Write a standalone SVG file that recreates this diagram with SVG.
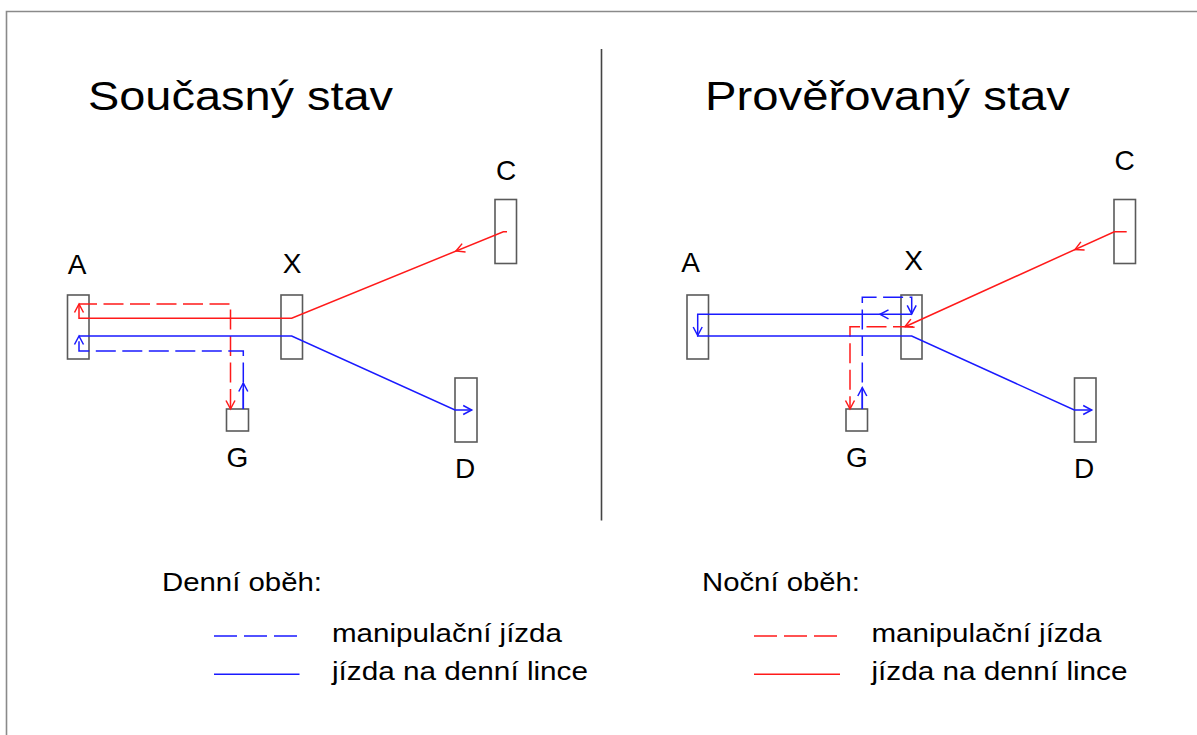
<svg xmlns="http://www.w3.org/2000/svg" xmlns:xlink="http://www.w3.org/1999/xlink" width="1197" height="735" viewBox="0 0 1197 735">
  <style>
    text { font-family: "Liberation Sans", Arial, sans-serif; fill: #000; }
    .title { font-size: 40px; }
    .lbl { font-size: 28px; text-anchor: middle; }
    .leg { font-size: 25px; }
    .box { fill: #fff; stroke: #5a5a5a; stroke-width: 1.6; }
    .red { fill: none; stroke: #ff1a1a; stroke-width: 1.5; }
    .blue { fill: none; stroke: #1a1aff; stroke-width: 1.5; }
    .dash { stroke-dasharray: 20 6.5; }
    .frame { fill: none; stroke: #8a8a8a; stroke-width: 1.6; }
  </style>
  <defs>
    <!-- open arrowhead, tip at origin, pointing along +x -->
    <path id="ah" d="M-8.5,-4.5 L0,0 L-8.5,4.5" fill="none"/>
  </defs>

  <rect width="1197" height="735" fill="#fff"/>
  <!-- page frame and divider -->
  <path class="frame" d="M6.5,735 V11.5 H1197"/>
  <line x1="601.5" y1="49" x2="601.5" y2="520.5" stroke="#444" stroke-width="1.6"/>

  <!-- titles -->
  <text class="title" x="88" y="110" textLength="305" lengthAdjust="spacingAndGlyphs">Současný stav</text>
  <text class="title" x="705" y="110" textLength="365" lengthAdjust="spacingAndGlyphs">Prověřovaný stav</text>

  <!-- left panel nodes -->
  <g id="L-A"><rect class="box" x="67.5" y="295" width="21.5" height="64"/><text class="lbl" x="77" y="274">A</text></g>
  <g id="L-X"><rect class="box" x="281" y="295" width="21.5" height="64"/><text class="lbl" x="292" y="273">X</text></g>
  <g id="L-G"><rect class="box" x="226.5" y="409" width="22" height="22"/><text class="lbl" x="237.5" y="467">G</text></g>
  <g id="L-C"><rect class="box" x="495" y="199.5" width="21.5" height="64"/><text class="lbl" x="506" y="180">C</text></g>
  <g id="L-D"><rect class="box" x="455" y="378" width="22" height="64"/><text class="lbl" x="465" y="478">D</text></g>

  <!-- right panel nodes -->
  <g id="R-A"><rect class="box" x="687" y="295" width="21.5" height="64"/><text class="lbl" x="690.5" y="272">A</text></g>
  <g id="R-X"><rect class="box" x="901" y="295" width="21" height="64"/><text class="lbl" x="913.5" y="270">X</text></g>
  <g id="R-G"><rect class="box" x="846" y="409" width="21.5" height="22"/><text class="lbl" x="857" y="467">G</text></g>
  <g id="R-C"><rect class="box" x="1114" y="199.5" width="21.5" height="64"/><text class="lbl" x="1124.5" y="170">C</text></g>
  <g id="R-D"><rect class="box" x="1074.5" y="378" width="21.5" height="64"/><text class="lbl" x="1084" y="478">D</text></g>

  <g id="connectors">
    <!-- left: night run C -> X -> A, then shunt A -> G -->
    <path class="red" d="M507,231.7 H503.3 L291.7,318.3 H79 V304"/>
    <path class="red dash" d="M230.5,409 V304 H79"/>
    <use xlink:href="#ah" stroke="#ff1a1a" stroke-width="1.5" transform="translate(456,251) rotate(157.7)"/>
    <use xlink:href="#ah" stroke="#ff1a1a" stroke-width="1.5" transform="translate(79,304) rotate(-90)"/>
    <use xlink:href="#ah" stroke="#ff1a1a" stroke-width="1.5" transform="translate(230.5,409) rotate(90)"/>

    <!-- left: day shunt G -> A, then run A -> X -> D -->
    <path class="blue dash" d="M243.3,409 V351 H79 V336"/>
    <path class="blue" d="M243.3,409 V383"/>
    <path class="blue" d="M79,336 H291.7 L455,410 H471.7"/>
    <use xlink:href="#ah" stroke="#1a1aff" stroke-width="1.5" transform="translate(243.3,383) rotate(-90)"/>
    <use xlink:href="#ah" stroke="#1a1aff" stroke-width="1.5" transform="translate(79,336) rotate(-90)"/>
    <use xlink:href="#ah" stroke="#1a1aff" stroke-width="1.5" transform="translate(471.7,410)"/>

    <!-- right: night run C -> X, then shunt X -> G -->
    <path class="red" d="M1126.7,231.7 H1114.3 L905,326.7"/>
    <path class="red dash" d="M913,326.7 H850 V409"/>
    <use xlink:href="#ah" stroke="#ff1a1a" stroke-width="1.5" transform="translate(1075,249.5) rotate(155.6)"/>
    <use xlink:href="#ah" stroke="#ff1a1a" stroke-width="1.5" transform="translate(905,326.7) rotate(155.6)"/>
    <use xlink:href="#ah" stroke="#ff1a1a" stroke-width="1.5" transform="translate(850,409) rotate(90)"/>

    <!-- right: day shunt G -> X, then run X -> A -> X -> D -->
    <path class="blue dash" d="M862.3,409 V297.3 H911.7 V314.3"/>
    <path class="blue" d="M862.3,409 V387.5"/>
    <path class="blue" d="M911.7,314.3 H697.7 V336 H911.7 L1074.3,410 H1091.7"/>
    <use xlink:href="#ah" stroke="#1a1aff" stroke-width="1.5" transform="translate(862.3,387.5) rotate(-90)"/>
    <use xlink:href="#ah" stroke="#1a1aff" stroke-width="1.5" transform="translate(911.7,313.8) rotate(90)"/>
    <use xlink:href="#ah" stroke="#1a1aff" stroke-width="1.5" transform="translate(880,314.3) rotate(180)"/>
    <use xlink:href="#ah" stroke="#1a1aff" stroke-width="1.5" transform="translate(697.7,335.5) rotate(90)"/>
    <use xlink:href="#ah" stroke="#1a1aff" stroke-width="1.5" transform="translate(1091.7,410)"/>
  </g>

  <!-- legends -->
  <g id="legend-day">
    <text class="leg" x="162" y="590.5" textLength="160" lengthAdjust="spacingAndGlyphs">Denní oběh:</text>
    <line class="blue" x1="214" y1="636" x2="299.5" y2="636" stroke-dasharray="23 7"/>
    <line class="blue" x1="214" y1="674.3" x2="299.5" y2="674.3"/>
    <text class="leg" x="332" y="641.5" textLength="230" lengthAdjust="spacingAndGlyphs">manipulační jízda</text>
    <text class="leg" x="332" y="680" textLength="256" lengthAdjust="spacingAndGlyphs">jízda na denní lince</text>
  </g>
  <g id="legend-night">
    <text class="leg" x="702" y="590.5" textLength="158" lengthAdjust="spacingAndGlyphs">Noční oběh:</text>
    <line class="red" x1="754" y1="636" x2="840" y2="636" stroke-dasharray="23 7"/>
    <line class="red" x1="754" y1="674.3" x2="840" y2="674.3"/>
    <text class="leg" x="871.5" y="641.5" textLength="230" lengthAdjust="spacingAndGlyphs">manipulační jízda</text>
    <text class="leg" x="871.5" y="680" textLength="256" lengthAdjust="spacingAndGlyphs">jízda na denní lince</text>
  </g>
</svg>
